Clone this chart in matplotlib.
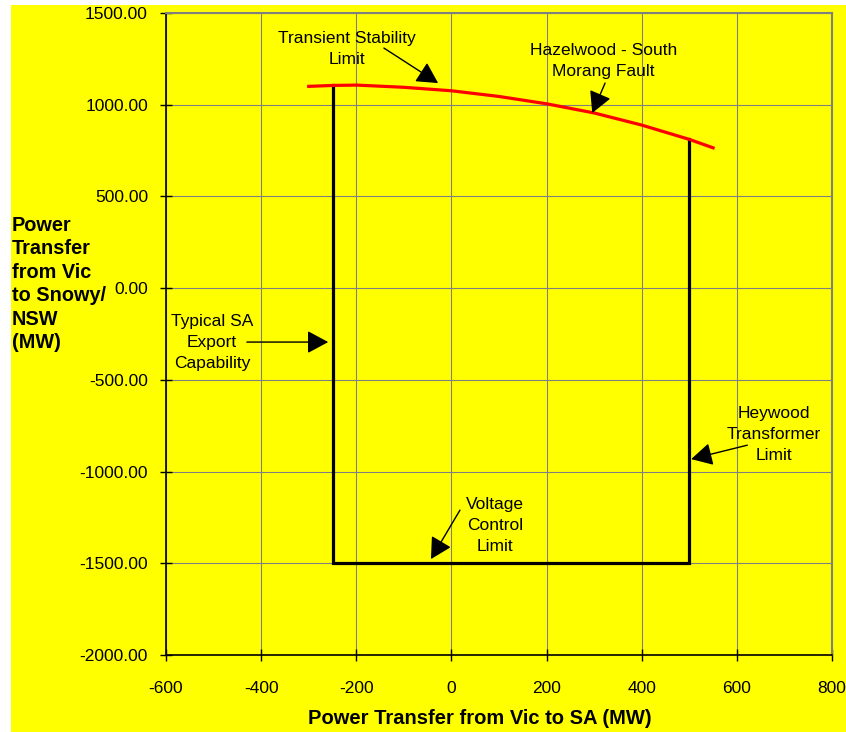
import matplotlib
matplotlib.use("Agg")
import matplotlib.pyplot as plt
from matplotlib.patches import Rectangle

plt.rcParams['font.family'] = ['Liberation Sans', 'DejaVu Sans']

# Transient stability limit curve (Hazelwood - South Morang fault)
curve_x = [-300, -250, -200, -100, 0, 100, 200, 300, 400, 500, 550]
curve_y = [1100, 1105, 1107, 1095, 1076, 1045, 1005, 955, 889, 811, 765]

# Operating envelope (SA export / voltage control / Heywood transformer)
box_x = [-250, -250, 500, 500]
box_y = [1105, -1500, -1500, 811]

x_ticks = [-600, -400, -200, 0, 200, 400, 600, 800]
y_ticks = [-2000, -1500, -1000, -500, 0, 500, 1000, 1500]

# annotations: text, text position, arrow tail, arrow tip
ann_labels = ["Transient Stability\nLimit", "Hazelwood - South\nMorang Fault",
              "Typical SA\nExport\nCapability", "Heywood\nTransformer\nLimit",
              "Voltage\nControl\nLimit"]
ann_text_xy = [(-219, 1304), (319, 1238), (-503, -294), (677, -796), (92, -1292)]
ann_tail_xy = [(-142, 1309), (323, 1118), (-430, -294), (622, -856), (18, -1210)]
ann_tip_xy = [(-28, 1118), (296, 955), (-259, -294), (504, -932), (-43, -1477)]

W, H = 846, 732
fig = plt.figure(figsize=(W / 100, H / 100), dpi=100)
fig.patch.set_facecolor('white')
fig.patches.append(Rectangle((11 / W, 0), (W - 11) / W, (H - 5) / H,
                             transform=fig.transFigure, facecolor='#FFFF00',
                             edgecolor='none', zorder=-10))

ax = fig.add_axes([166 / W, 1 - 655 / H, (832 - 166) / W, (655 - 13) / H])
ax.set_facecolor('#FFFF00')
ax.set_xlim(-600, 800)
ax.set_ylim(-2000, 1500)
ax.set_xticks(x_ticks)
ax.set_yticks(y_ticks)
ax.set_xticklabels([f"{v}" for v in x_ticks])
ax.set_yticklabels([f"{v:.2f}" for v in y_ticks])
ax.grid(True, color='#808080', lw=0.8)
ax.set_axisbelow(True)
for s in ['top', 'right']:
    ax.spines[s].set_color('#808080')
    ax.spines[s].set_linewidth(1.5)
for s in ['left', 'bottom']:
    ax.spines[s].set_color('black')
    ax.spines[s].set_linewidth(1.2)
ax.tick_params(axis='both', direction='inout', length=8, width=1.0, labelsize=12.5)
ax.tick_params(axis='x', pad=15)
ax.tick_params(axis='y', pad=9)

ax.plot(box_x, box_y, color='black', lw=2.3, zorder=3, solid_joinstyle='miter')
ax.plot(curve_x, curve_y, color='#FF0000', lw=2.3, zorder=4)

for lab, txy, tail, tip in zip(ann_labels, ann_text_xy, ann_tail_xy, ann_tip_xy):
    ax.text(txy[0], txy[1], lab, ha='center', va='center', fontsize=12.5,
            multialignment='center', linespacing=1.5, zorder=6)
    ax.annotate('', xy=tip, xytext=tail,
                arrowprops=dict(arrowstyle='-|>,head_length=0.65,head_width=0.35',
                                mutation_scale=20, color='black', lw=1.0,
                                shrinkA=0, shrinkB=0), zorder=6)

fig.text(480 / W, 1 - 718 / H, "Power Transfer from Vic to SA (MW)",
         ha='center', va='center', fontsize=14.5, fontweight='bold')
fig.text(12 / W, 1 - 284 / H, "Power\nTransfer\nfrom Vic\nto Snowy/\nNSW\n(MW)",
         ha='left', va='center', fontsize=14.3, fontweight='bold', linespacing=1.3)

fig.savefig('out.png', dpi=100)
